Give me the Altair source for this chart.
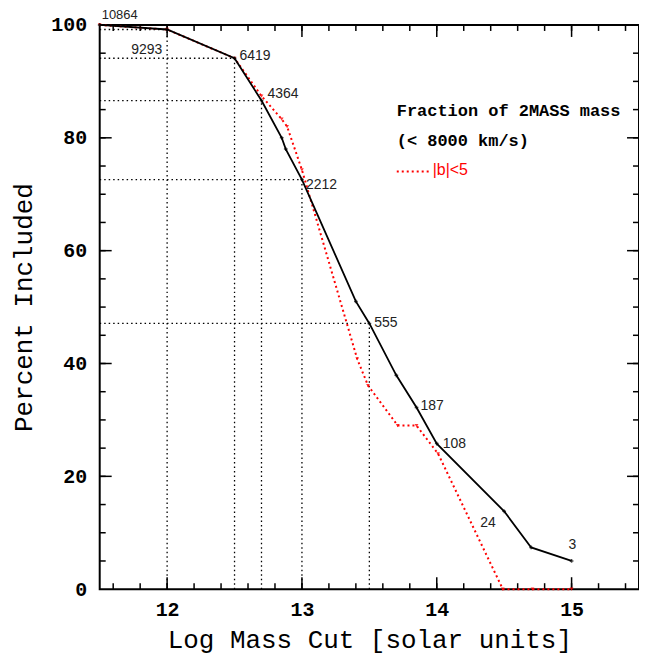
import altair as alt
import pandas as pd
import numpy as np

# ---- data ----
black_x = [11.5, 12.0, 12.5, 12.7, 12.85, 12.88, 13.0, 13.4, 13.5, 13.7, 13.85, 14.0, 14.5, 14.7, 15.0]
black_y = [100.0, 99.2, 94.1, 86.6, 80.0, 78.0, 72.6, 51.0, 47.1, 37.9, 32.2, 25.8, 13.8, 7.4, 5.0]

red_x = [11.5, 12.0, 12.5, 12.7, 12.85, 12.89, 13.0, 13.41, 13.49, 13.71, 13.85, 14.01, 14.49, 14.71, 15.0]
red_y = [100.0, 99.2, 94.1, 87.4, 83.3, 82.0, 74.3, 40.8, 36.1, 29.0, 29.0, 24.0, 0.0, 0.0, 0.0]

# numbers written beside points (anchor = point on black curve)
label_text = ["10864", "9293", "6419", "4364", "2212", "555", "187", "108", "24", "3"]
label_x = [11.5, 12.0, 12.5, 12.7, 13.0, 13.5, 13.85, 14.0, 14.5, 15.0]
label_y = [100.0, 99.2, 94.1, 86.6, 72.6, 47.1, 32.2, 25.8, 13.8, 5.0]
label_dx = [2, -36, 5, 6, 4, 5, 4, 6, -24, -3]
label_dy = [-10, 21, -2, -7, 5, 0, -2, 0, 12, -16]
label_size = [13, 14, 14, 14, 14, 14, 14, 14, 14, 14]

# dotted guide lines to selected points
guide_x = [12.0, 12.5, 12.7, 13.0, 13.5]
guide_y = [99.2, 94.1, 86.6, 72.6, 47.1]

# axis ticks
x_major = [12, 13, 14, 15]
y_major = [0, 20, 40, 60, 80, 100]
x_minor = [round(v, 1) for v in np.arange(11.6, 15.45, 0.2)]
y_minor = list(range(5, 100, 5))

XMIN, XMAX = 11.5, 15.5
W, H = 541, 566

black = pd.DataFrame({"x": black_x, "y": black_y})
red = pd.DataFrame({"x": red_x, "y": red_y})
labels = pd.DataFrame({"x": label_x, "y": label_y, "t": label_text})
guides = pd.DataFrame({"x": guide_x, "y": guide_y, "x0": [XMIN] * len(guide_x), "y0": [0] * len(guide_x)})

xs = alt.Scale(domain=[XMIN, XMAX], nice=False, zero=False)
ys = alt.Scale(domain=[0, 100], nice=False, zero=False)

MONO = "Liberation Mono"

xaxis = alt.Axis(values=x_major, title="Log Mass Cut [solar units]", ticks=False, tickSize=0,
                 domain=False, grid=False, labelFont=MONO, labelFontSize=20, labelFontWeight="bold",
                 labelColor="black", labelPadding=10, titleFont=MONO, titleFontSize=26,
                 titleFontWeight="normal", titleColor="black", titlePadding=8, format="d")
yaxis = alt.Axis(values=y_major, title="Percent Included", ticks=False, tickSize=0,
                 domain=False, grid=False, labelFont=MONO, labelFontSize=20, labelFontWeight="bold",
                 labelColor="black", labelPadding=13, titleFont=MONO, titleFontSize=26,
                 titleFontWeight="normal", titleColor="black", titlePadding=14, format="d")

# guide lines
vguides = alt.Chart(guides).mark_rule(color="black", strokeDash=[1.5, 3], strokeWidth=1.3).encode(
    x=alt.X("x:Q", scale=xs, axis=xaxis), y=alt.Y("y0:Q", scale=ys, axis=yaxis), y2="y:Q")
hguides = alt.Chart(guides).mark_rule(color="black", strokeDash=[1.5, 3], strokeWidth=1.3).encode(
    y=alt.Y("y:Q", scale=ys), x=alt.X("x0:Q", scale=xs), x2="x:Q")

red_line = alt.Chart(red).mark_line(color="#ff0000", strokeDash=[2, 3], strokeWidth=2).encode(
    x=alt.X("x:Q", scale=xs), y=alt.Y("y:Q", scale=ys))
red_pts = alt.Chart(red).mark_point(shape="triangle-down", color="#ff0000", filled=True, size=14, opacity=0.8).encode(
    x=alt.X("x:Q", scale=xs), y=alt.Y("y:Q", scale=ys))

black_line = alt.Chart(black).mark_line(color="black", strokeWidth=1.8).encode(
    x=alt.X("x:Q", scale=xs), y=alt.Y("y:Q", scale=ys))
black_pts = alt.Chart(black).mark_point(shape="cross", color="black", filled=True, size=14).encode(
    x=alt.X("x:Q", scale=xs), y=alt.Y("y:Q", scale=ys))

text_layers = []
for i in range(len(label_text)):
    text_layers.append(
        alt.Chart(labels.iloc[[i]]).mark_text(align="left", baseline="middle", font="Liberation Sans",
                                              fontSize=label_size[i], color="#222",
                                              dx=label_dx[i], dy=label_dy[i]).encode(
            x=alt.X("x:Q", scale=xs), y=alt.Y("y:Q", scale=ys), text="t:N"))

# inward ticks on all four sides
def tick_layers(vals, length, axis):
    df = pd.DataFrame({"v": vals})
    if axis == "x":
        bottom = alt.Chart(df).mark_rule(color="black", strokeWidth=1.5).encode(
            x=alt.X("v:Q", scale=xs), y=alt.value(H), y2=alt.value(H - length))
        top = alt.Chart(df).mark_rule(color="black", strokeWidth=1.5).encode(
            x=alt.X("v:Q", scale=xs), y=alt.value(0), y2=alt.value(length))
        return [bottom, top]
    left = alt.Chart(df).mark_rule(color="black", strokeWidth=1.5).encode(
        y=alt.Y("v:Q", scale=ys), x=alt.value(0), x2=alt.value(length))
    right = alt.Chart(df).mark_rule(color="black", strokeWidth=1.5).encode(
        y=alt.Y("v:Q", scale=ys), x=alt.value(W), x2=alt.value(W - length))
    return [left, right]

ticks = (tick_layers(x_major, 12, "x") + tick_layers(x_minor, 6, "x")
         + tick_layers(y_major[1:-1], 12, "y") + tick_layers(y_minor, 6, "y"))

# plot frame
frame = alt.Chart(pd.DataFrame({"a": [0]})).mark_rect(fill=None, stroke="black", strokeWidth=2).encode(
    x=alt.value(0), x2=alt.value(W), y=alt.value(0), y2=alt.value(H))

leg1 = alt.Chart(pd.DataFrame({"t": ["Fraction of 2MASS mass"]})).mark_text(
    align="left", baseline="middle", font=MONO, fontSize=17, fontWeight="bold", color="black").encode(
    x=alt.value(298), y=alt.value(86), text="t:N")
leg2 = alt.Chart(pd.DataFrame({"t": ["(< 8000 km/s)"]})).mark_text(
    align="left", baseline="middle", font=MONO, fontSize=17, fontWeight="bold", color="black").encode(
    x=alt.value(298), y=alt.value(116), text="t:N")
leg3 = alt.Chart(pd.DataFrame({"t": ["|b|<5"]})).mark_text(
    align="left", baseline="middle", font="Liberation Sans", fontSize=16, color="#ff0000").encode(
    x=alt.value(334), y=alt.value(146), text="t:N")
leg_line = alt.Chart(pd.DataFrame({"a": [0]})).mark_rule(color="#ff0000", strokeDash=[2, 3], strokeWidth=2).encode(
    x=alt.value(298), x2=alt.value(330), y=alt.value(147))

chart = alt.layer(
    vguides, hguides, *ticks, frame, red_line, red_pts, black_line, black_pts, *text_layers,
    leg1, leg2, leg3, leg_line
).properties(
    width=W, height=H,
    autosize=alt.AutoSizeParams(type="none"),
    padding={"left": 92, "top": 16, "right": 0, "bottom": 66},
).configure(
    background="white"
).configure_view(
    stroke=None
)

chart.save("out.html", embed_options={"renderer": "svg", "actions": False})
